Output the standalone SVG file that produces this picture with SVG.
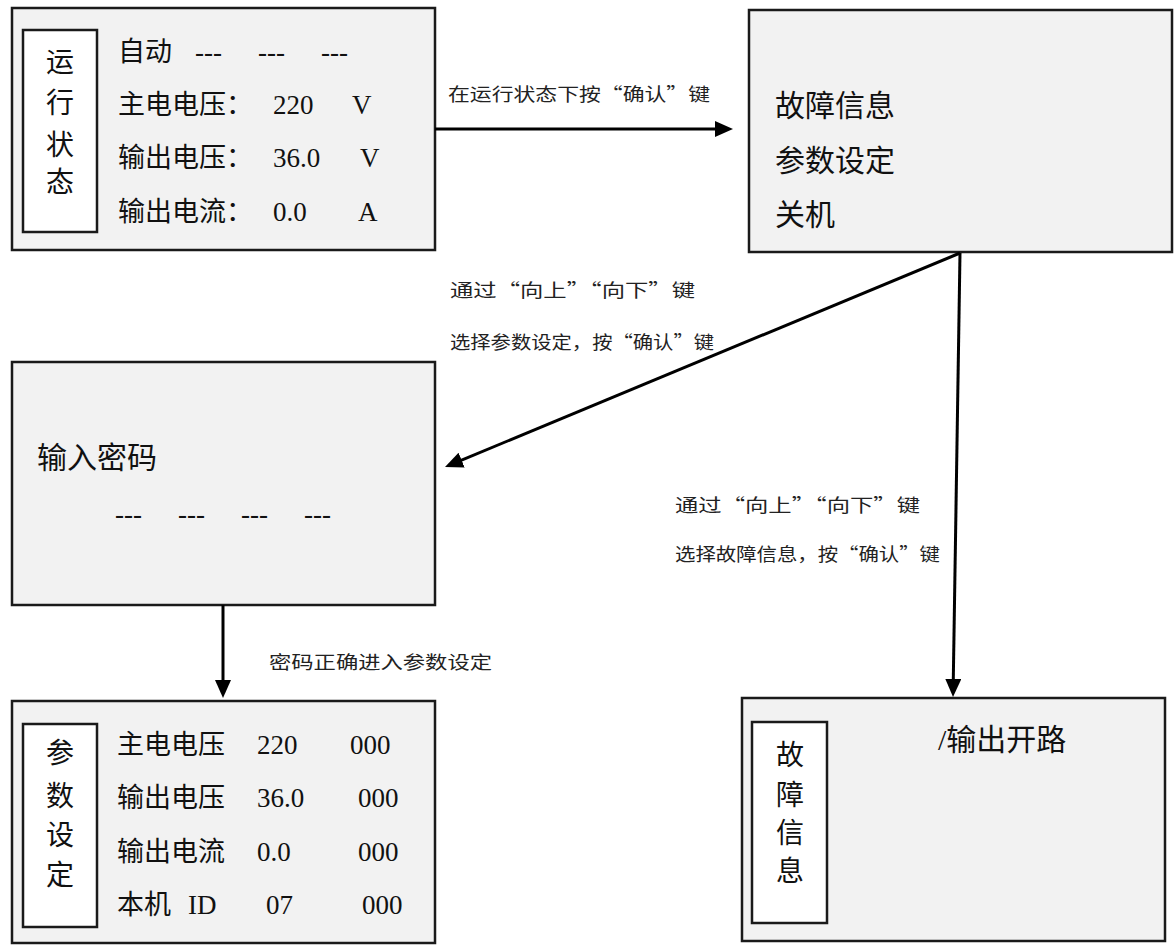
<svg xmlns="http://www.w3.org/2000/svg" width="1176" height="948" viewBox="0 0 1176 948">
<style>
.box{fill:#f2f2f2;stroke:#1a1a1a;stroke-width:2.5}
.inner{fill:#ffffff;stroke:#1a1a1a;stroke-width:2.5}
.t{font-family:"Liberation Serif","Noto Sans CJK SC",serif;font-size:27px;fill:#111}
.big{font-family:"Liberation Serif","Noto Sans CJK SC",serif;font-size:30px;fill:#111}
.v{font-family:"Noto Sans CJK SC",sans-serif;font-size:28px;fill:#111;text-anchor:middle}
.lbl{font-family:"Noto Sans CJK SC",sans-serif;font-size:18px;fill:#222}
.conn{stroke:#000;stroke-width:3;fill:none}
</style>
<defs>
<marker id="arr" markerUnits="userSpaceOnUse" markerWidth="18" markerHeight="16" refX="13" refY="8" orient="auto">
<path d="M0,0 L18,8 L0,16 z" fill="#000"/>
</marker>
</defs>
<rect width="1176" height="948" fill="#ffffff"/>

<g id="run-state">
<rect class="box" x="12" y="8" width="423" height="242"/>
<rect class="inner" x="23" y="30" width="74" height="202"/>
<text class="v" x="60" y="72">运</text>
<text class="v" x="60" y="113">行</text>
<text class="v" x="60" y="155">状</text>
<text class="v" x="60" y="192">态</text>
<text class="t" x="118" y="61">自动</text>
<text class="t" x="195" y="61">---</text>
<text class="t" x="258" y="61">---</text>
<text class="t" x="321" y="61">---</text>
<text class="t" x="118" y="114">主电电压：</text>
<text class="t" x="273" y="114">220</text>
<text class="t" x="352" y="114">V</text>
<text class="t" x="118" y="167">输出电压：</text>
<text class="t" x="273" y="167">36.0</text>
<text class="t" x="360" y="167">V</text>
<text class="t" x="118" y="221">输出电流：</text>
<text class="t" x="273" y="221">0.0</text>
<text class="t" x="358" y="221">A</text>
</g>

<g id="menu">
<rect class="box" x="749" y="10" width="423" height="242"/>
<text class="big" x="775" y="116">故障信息</text>
<text class="big" x="775" y="171">参数设定</text>
<text class="big" x="775" y="225">关机</text>
</g>

<g id="password">
<rect class="box" x="12" y="362" width="423" height="243"/>
<text class="big" x="37" y="468">输入密码</text>
<text class="t" x="115" y="523">---</text>
<text class="t" x="178" y="523">---</text>
<text class="t" x="241" y="523">---</text>
<text class="t" x="304" y="523">---</text>
</g>

<g id="param-set">
<rect class="box" x="12" y="701" width="423" height="242"/>
<rect class="inner" x="23" y="724" width="74" height="203"/>
<text class="v" x="60" y="763">参</text>
<text class="v" x="60" y="806">数</text>
<text class="v" x="60" y="845">设</text>
<text class="v" x="60" y="885">定</text>
<text class="t" x="117" y="754">主电电压</text>
<text class="t" x="257" y="754">220</text>
<text class="t" x="350" y="754">000</text>
<text class="t" x="117" y="807">输出电压</text>
<text class="t" x="257" y="807">36.0</text>
<text class="t" x="358" y="807">000</text>
<text class="t" x="117" y="861">输出电流</text>
<text class="t" x="257" y="861">0.0</text>
<text class="t" x="358" y="861">000</text>
<text class="t" x="117" y="914">本机</text>
<text class="t" x="188" y="914">ID</text>
<text class="t" x="266" y="914">07</text>
<text class="t" x="362" y="914">000</text>
</g>

<g id="fault-info">
<rect class="box" x="742" y="698" width="423" height="243"/>
<rect class="inner" x="752" y="722" width="75" height="201"/>
<text class="v" x="790" y="765">故</text>
<text class="v" x="790" y="805">障</text>
<text class="v" x="790" y="843">信</text>
<text class="v" x="790" y="881">息</text>
<text class="big" x="938" y="750">/输出开路</text>
</g>

<g id="connectors">
<line class="conn" x1="435" y1="129" x2="728" y2="129" marker-end="url(#arr)"/>
<line class="conn" x1="960" y1="253" x2="449.6" y2="465.1" marker-end="url(#arr)"/>
<line class="conn" x1="960" y1="253" x2="953.1" y2="692" marker-end="url(#arr)"/>
<line class="conn" x1="223" y1="605" x2="223" y2="693" marker-end="url(#arr)"/>
</g>

<g id="labels">
<text class="lbl" x="448" y="101" textLength="262" lengthAdjust="spacingAndGlyphs">在运行状态下按“确认”键</text>
<text class="lbl" x="450" y="297" textLength="245" lengthAdjust="spacingAndGlyphs">通过“向上”“向下”键</text>
<text class="lbl" x="450" y="349" textLength="264" lengthAdjust="spacingAndGlyphs">选择参数设定，按“确认”键</text>
<text class="lbl" x="269" y="669" textLength="223" lengthAdjust="spacingAndGlyphs">密码正确进入参数设定</text>
<text class="lbl" x="675" y="512" textLength="245" lengthAdjust="spacingAndGlyphs">通过“向上”“向下”键</text>
<text class="lbl" x="675" y="561" textLength="265" lengthAdjust="spacingAndGlyphs">选择故障信息，按“确认”键</text>
</g>
</svg>
